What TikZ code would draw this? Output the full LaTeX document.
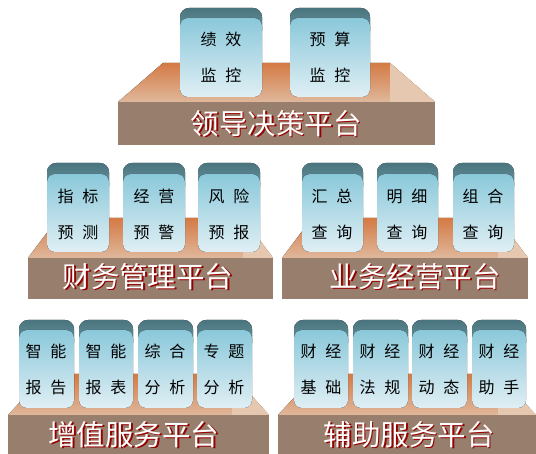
\documentclass[tikz,border=0pt]{standalone}
\usepackage{fontspec}
\newfontfamily\cjk{Noto Sans CJK SC}
\usetikzlibrary{positioning}

\definecolor{plateorange}{RGB}{212,122,68}
\definecolor{platepeach}{RGB}{224,184,156}
\definecolor{plateright}{RGB}{230,200,176}
\definecolor{frontbrown}{RGB}{152,126,108}
\definecolor{capdark}{RGB}{74,116,126}
\definecolor{caplight}{RGB}{112,160,170}
\definecolor{cardblue}{RGB}{138,200,218}
\definecolor{cardpale}{RGB}{224,239,244}
\definecolor{shadowred}{RGB}{150,0,0}

\newcommand{\cgap}{\hspace{0.55em}}
\newcommand{\platelabel}[1]{\rlap{\hspace{1.6pt}\raisebox{-1.6pt}{\color{shadowred}#1}}#1}

\tikzset{
  platetop/.style={top color=plateorange, bottom color=platepeach},
  plateside/.style={fill=plateright},
  platefront/.style={fill=frontbrown},
  cardcap/.style={top color=capdark, bottom color=caplight, rounded corners=9pt},
  cardbody/.style={top color=cardblue, bottom color=cardpale, rounded corners=8pt},
  cardtext/.style={font=\cjk\fontsize{16}{36}\selectfont, align=center, text=black, inner sep=0pt},
  platetext/.style={font=\cjk\fontsize{28.5}{28.5}\selectfont, text=white, inner sep=0pt}
}

\begin{document}
\begin{tikzpicture}[x=1pt,y=-1pt]
            \useasboundingbox (0,0) rectangle (536,454);

            % platforms
            \fill[platetop]   (163,63)  -- (390,63)  -- (435,102) -- (118,102) -- cycle;
            \fill[plateside]  (390,63)  -- (435,102) -- (390,102) -- cycle;
            \fill[platefront] (118,102) rectangle (435,145);

            \fill[platetop]   (58,218)  -- (243,218) -- (273,258) -- (28,258)  -- cycle;
            \fill[plateside]  (243,218) -- (273,258) -- (243,258) -- cycle;
            \fill[platefront] (28,258)  rectangle (273,299);

            \fill[platetop]   (312,218) -- (498,218) -- (528,258) -- (282,258) -- cycle;
            \fill[plateside]  (498,218) -- (528,258) -- (498,258) -- cycle;
            \fill[platefront] (282,258) rectangle (528,299);

            \fill[platetop]   (46,374)  -- (232,374) -- (269,415) -- (8,415)   -- cycle;
            \fill[plateside]  (232,374) -- (269,415) -- (232,415) -- cycle;
            \fill[platefront] (8,415)   rectangle (269,454);

            \fill[platetop]   (316,374) -- (498,374) -- (536,415) -- (278,415) -- cycle;
            \fill[plateside]  (498,374) -- (536,415) -- (498,415) -- cycle;
            \fill[platefront] (278,415) rectangle (536,454);

            \node[platetext] (ld) at (276,124) {\platelabel{领导决策平台}};
            \node[platetext] (cw) at (148,277) {\platelabel{财务管理平台}};
            \node[platetext] (yw) at (415,277) {\platelabel{业务经营平台}};
            \node[platetext] (zz) at (134,435) {\platelabel{增值服务平台}};
            \node[platetext] (fz) at (409,435) {\platelabel{辅助服务平台}};

            % top row cards
            \fill[cardcap]  (180,8)   rectangle (262,40);
            \fill[cardbody] (180,18)  rectangle (262,97);
            \fill[cardcap]  (290,8)   rectangle (370,40);
            \fill[cardbody] (290,18)  rectangle (370,97);
            \node[cardtext] (jxjk) at (221,57) {绩\cgap 效\\监\cgap 控};
            \node[cardtext] (ysjk) at (330,57) {预\cgap 算\\监\cgap 控};

            % middle row cards
            \fill[cardcap]  (47,163)  rectangle (109,195);
            \fill[cardbody] (47,174)  rectangle (109,252);
            \fill[cardcap]  (123,163) rectangle (185,195);
            \fill[cardbody] (123,174) rectangle (185,252);
            \fill[cardcap]  (198,163) rectangle (260,195);
            \fill[cardbody] (198,174) rectangle (260,252);
            \fill[cardcap]  (302,163) rectangle (363,195);
            \fill[cardbody] (302,174) rectangle (363,252);
            \fill[cardcap]  (377,163) rectangle (438,195);
            \fill[cardbody] (377,174) rectangle (438,252);
            \fill[cardcap]  (453,163) rectangle (514,195);
            \fill[cardbody] (453,174) rectangle (514,252);
            \node[cardtext] (zbyc) at (78,214)  {指\cgap 标\\预\cgap 测};
            \node[cardtext] (jyyj) at (154,214) {经\cgap 营\\预\cgap 警};
            \node[cardtext] (fxyb) at (229,214) {风\cgap 险\\预\cgap 报};
            \node[cardtext] (hzcx) at (332,214) {汇\cgap 总\\查\cgap 询};
            \node[cardtext] (mxcx) at (407,214) {明\cgap 细\\查\cgap 询};
            \node[cardtext] (zhcx) at (483,214) {组\cgap 合\\查\cgap 询};

            % bottom row cards
            \fill[cardcap]  (19,320)  rectangle (74,352);
            \fill[cardbody] (19,330)  rectangle (74,408);
            \fill[cardcap]  (79,320)  rectangle (133,352);
            \fill[cardbody] (79,330)  rectangle (133,408);
            \fill[cardcap]  (138,320) rectangle (193,352);
            \fill[cardbody] (138,330) rectangle (193,408);
            \fill[cardcap]  (197,320) rectangle (252,352);
            \fill[cardbody] (197,330) rectangle (252,408);
            \fill[cardcap]  (294,320) rectangle (348,352);
            \fill[cardbody] (294,330) rectangle (348,408);
            \fill[cardcap]  (353,320) rectangle (408,352);
            \fill[cardbody] (353,330) rectangle (408,408);
            \fill[cardcap]  (412,320) rectangle (467,352);
            \fill[cardbody] (412,330) rectangle (467,408);
            \fill[cardcap]  (472,320) rectangle (526,352);
            \fill[cardbody] (472,330) rectangle (526,408);
            \node[cardtext] (znbg) at (46,369)  {智\cgap 能\\报\cgap 告};
            \node[cardtext] (znbb) at (106,369) {智\cgap 能\\报\cgap 表};
            \node[cardtext] (zhfx) at (165,369) {综\cgap 合\\分\cgap 析};
            \node[cardtext] (ztfx) at (224,369) {专\cgap 题\\分\cgap 析};
            \node[cardtext] (cjjc) at (321,369) {财\cgap 经\\基\cgap 础};
            \node[cardtext] (cjfg) at (380,369) {财\cgap 经\\法\cgap 规};
            \node[cardtext] (cjdt) at (439,369) {财\cgap 经\\动\cgap 态};
            \node[cardtext] (cjzs) at (499,369) {财\cgap 经\\助\cgap 手};
        \end{tikzpicture}
\end{document}
